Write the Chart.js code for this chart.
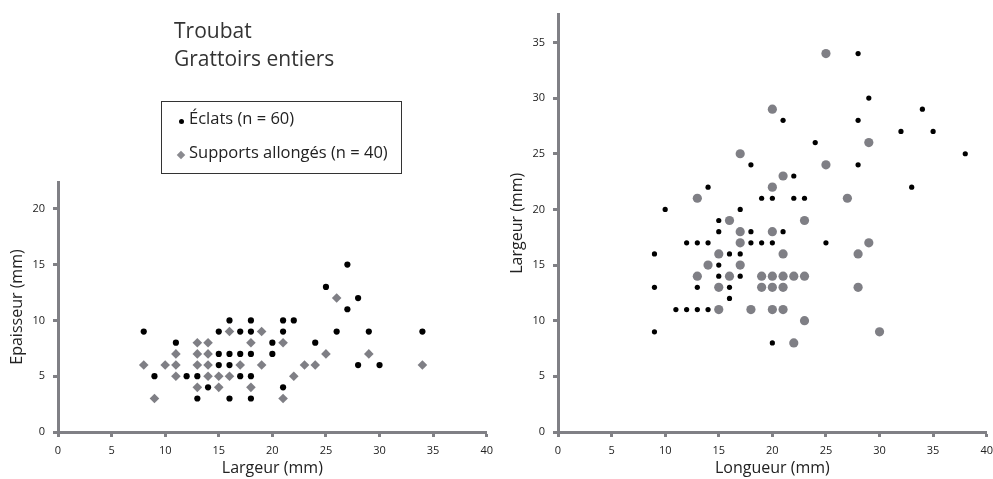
<!DOCTYPE html>
<html>
<head>
<meta charset="utf-8">
<script src="https://cdn.jsdelivr.net/npm/chart.js@4/dist/chart.umd.min.js"></script>
<style>
  html, body { margin: 0; padding: 0; background: #fff; overflow: hidden; }
  #wrap { position: relative; width: 993px; height: 479px; overflow: hidden; font-family: "Open Sans", sans-serif; color: #222; }
  canvas { position: absolute; top: 0; }
  #leftChart { left: 0; }
  #rightChart { left: 500px; }
  #title { position: absolute; left: 174px; top: 16px; font-size: 21px; line-height: 28px; color: #333; }
  #legend { position: absolute; left: 161px; top: 101px; width: 241px; height: 73px; border: 1px solid #333; box-sizing: border-box; font-size: 16.5px; color: #222; }
  .item { position: absolute; left: 27px; white-space: nowrap; }
  .dot { position: absolute; left: 17px; width: 5px; height: 5px; border-radius: 50%; background: #000; }
  .diamond { position: absolute; left: 16px; width: 6px; height: 6px; background: #8a8a8f; transform: rotate(45deg); }
</style>
</head>
<body>
<div id="wrap">
<canvas id="leftChart" width="500" height="479"></canvas>
<canvas id="rightChart" width="500" height="479"></canvas>
<div id="title">Troubat<br>Grattoirs entiers</div>
<div id="legend">
  <span class="dot" style="top:17px"></span><span class="item" style="top:4px">Éclats (n = 60)</span>
  <span class="diamond" style="top:50px"></span><span class="item" style="top:38px">Supports allongés (n = 40)</span>
</div>
</div>
<script>
// left chart: largeur / epaisseur
const eclatsLarg = [8,9,11,12,13,13,14,15,15,15,16,16,16,16,17,17,17,18,18,18,18,18,20,20,21,21,21,22,24,25,26,27,27,28,28,29,30,34];
const eclatsEpai = [9,5,8,5,5,3,4,9,7,6,10,7,6,3,9,7,5,10,9,7,5,3,8,7,10,9,4,10,8,13,9,15,11,12,6,9,6,9];
const supLarg = [8,9,10,11,11,11,13,13,13,13,14,14,14,14,15,15,16,16,17,18,18,19,19,21,21,22,23,24,25,26,29,34];
const supEpai = [6,3,6,7,6,5,8,7,6,4,8,7,6,5,5,4,9,5,6,8,4,9,6,8,3,5,6,6,7,12,7,6];

// right chart: longueur / largeur
const eclatsLong = [28,29,21,28,34,32,35,24,38,18,28,22,14,33,19,20,22,23,10,17,15,15,18,21,12,13,14,18,19,20,25,9,16,17,15,15,17,9,13,16,16,11,12,13,14,9,20];
const eclatsLarg2 = [34,30,28,28,29,27,27,26,25,24,24,23,22,22,21,21,21,21,20,20,19,18,18,18,17,17,17,17,17,17,17,16,16,16,15,14,14,13,13,13,12,11,11,11,11,9,8];
const supLong = [25,20,29,17,25,21,20,13,27,16,23,17,20,17,29,15,21,28,14,17,13,16,19,20,21,22,23,15,19,20,21,28,15,18,20,21,23,30,22];
const supLarg2 = [34,29,26,25,24,23,22,21,21,19,19,18,18,17,17,16,16,16,15,15,14,14,14,14,14,14,14,13,13,13,13,13,11,11,11,11,10,9,8];

const axisGray = '#808085';
const markerGray = '#7f7f85';

function pairs(xs, ys) {
  return xs.map((x, i) => ({ x: x, y: ys[i] }));
}

function axis(title, max, isX) {
  return {
    type: 'linear',
    min: 0,
    max: max,
    title: {
      display: true,
      text: title,
      color: '#222',
      font: { family: 'Open Sans', size: 16 },
      padding: isX ? { bottom: 1 } : { top: 8 }
    },
    ticks: {
      stepSize: 5,
      color: '#222',
      font: { family: 'Open Sans', size: 11 },
      padding: isX ? 7 : 8
    },
    afterBuildTicks: scale => {
      scale.ticks = scale.ticks.filter(t => t.value % 5 === 0);
    },
    afterFit: scale => {
      if (isX) scale.height = 47;
      else scale.width = 58;
    },
    grid: {
      drawOnChartArea: false,
      drawTicks: true,
      tickLength: 5,
      tickColor: axisGray,
      tickWidth: 3
    },
    border: { display: true, color: axisGray, width: 3 }
  };
}

function makeChart(id, blackData, grayData, blackR, grayR, grayStyle, xTitle, yTitle, yMax, padTop) {
  return new Chart(document.getElementById(id), {
    type: 'scatter',
    data: {
      datasets: [
        {
          label: 'Éclats (n = 60)',
          data: blackData,
          pointStyle: 'circle',
          pointRadius: blackR,
          pointBackgroundColor: '#000',
          pointBorderWidth: 0,
          order: 1
        },
        {
          label: 'Supports allongés (n = 40)',
          data: grayData,
          pointStyle: grayStyle,
          pointRadius: grayR,
          pointBackgroundColor: markerGray,
          pointBorderWidth: 0,
          order: 0
        }
      ]
    },
    options: {
      responsive: false,
      animation: false,
      layout: { padding: { top: padTop, right: 12, left: 0, bottom: 0 } },
      plugins: {
        legend: { display: false },
        tooltip: { enabled: false }
      },
      scales: {
        x: axis(xTitle, 40, true),
        y: axis(yTitle, yMax, false)
      }
    }
  });
}

makeChart('leftChart', pairs(eclatsLarg, eclatsEpai), pairs(supLarg, supEpai),
  3.1, 4.8, 'rectRot', 'Largeur (mm)', 'Epaisseur (mm)', 22.4, 182);

makeChart('rightChart', pairs(eclatsLong, eclatsLarg2), pairs(supLong, supLarg2),
  2.6, 4.6, 'circle', 'Longueur (mm)', 'Largeur (mm)', 37.5, 13);
</script>
</body>
</html>
